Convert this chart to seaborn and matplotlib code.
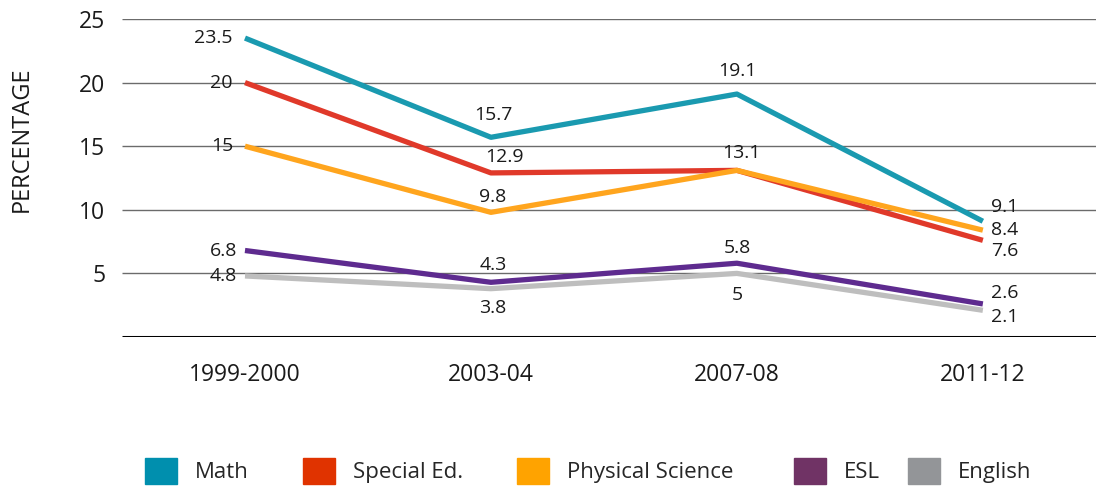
import matplotlib
matplotlib.use("Agg")
import matplotlib.pyplot as plt
import matplotlib.patches as mpatches
import seaborn as sns
import pandas as pd

years = ["1999-2000", "2003-04", "2007-08", "2011-12"]
subjects = ["Math", "Special Ed.", "Physical Science", "ESL", "English"]
math = [23.5, 15.7, 19.1, 9.1]
special_ed = [20, 12.9, 13.1, 7.6]
physical_science = [15, 9.8, 13.1, 8.4]
esl = [6.8, 4.3, 5.8, 2.6]
english = [4.8, 3.8, 5, 2.1]
y_ticks = [5, 10, 15, 20, 25]

series = [math, special_ed, physical_science, esl, english]
line_colors = ["#1a9ab0", "#e0392a", "#ffa51e", "#5e2b8f", "#bebebe"]
legend_colors = ["#008fae", "#e03300", "#ffa300", "#703365", "#939598"]

rows = []
for subj, vals in zip(subjects, series):
    for i, (yr, v) in enumerate(zip(years, vals)):
        rows.append({"year": yr, "pos": i, "subject": subj, "value": v})
df = pd.DataFrame(rows)

sns.set_theme(style="white")
plt.rcParams["font.family"] = ["Open Sans", "DejaVu Sans"]

fig = plt.figure(figsize=(10.96, 4.9), dpi=100)
ax = fig.add_axes([122 / 1096, 1 - 337 / 490, 1 - 122 / 1096, (337 - 19) / 490])

for y in y_ticks:
    ax.axhline(y, color="#6b6b6b", lw=1.0, zorder=0)
ax.axhline(0, color="black", lw=2.2, zorder=0.5)

sns.lineplot(data=df, x="pos", y="value", hue="subject", hue_order=subjects,
             palette=dict(zip(subjects, line_colors)), lw=3.8, ax=ax,
             legend=False, sort=False)
for l in ax.lines:
    l.set_solid_capstyle("butt")

ax.set_xlim(-0.5, 3.46)
ax.set_ylim(0, 25)
ax.set_xticks(range(len(years)))
ax.set_xticklabels(years)
ax.set_yticks(y_ticks)
ax.set_yticklabels([str(t) for t in y_ticks])
ax.tick_params(axis="x", length=0, pad=19, labelsize=16.5, labelcolor="#1a1a1a")
ax.tick_params(axis="y", length=0, pad=12, labelsize=16.5, labelcolor="#1a1a1a")
ax.set_xlabel("")
ax.set_ylabel("")
for s in ax.spines.values():
    s.set_visible(False)

fig.text(22 / 1096, 1 - 139 / 490, "PERCENTAGE", rotation=90, ha="center",
         va="center", fontsize=17, color="#1a1a1a")

# label offsets in pixels (dx, dy, ha) per series per point
px = 0.72
offsets = [
    [(-12, 0, "right"), (2, 22, "center"), (0, 23, "center"), (8, 14, "left")],
    [(-12, 0, "right"), (13, 16, "center"), (4, 17, "center"), (8, -11, "left")],
    [(-12, 0, "right"), (2, 15, "center"), None, (8, 0, "left")],
    [(-8, 0, "right"), (2, 17, "center"), (0, 15, "center"), (8, 11, "left")],
    [(-8, 0, "right"), (2, -19, "center"), (0, -22, "center"), (8, -7, "left")],
]
for vals, offs in zip(series, offsets):
    for i, (v, o) in enumerate(zip(vals, offs)):
        if o is None:
            continue
        dx, dy, ha = o
        ax.annotate(f"{v:g}", xy=(i, v), xytext=(dx * px, dy * px),
                    textcoords="offset points", ha=ha, va="center",
                    fontsize=14, color="#1a1a1a", zorder=5)

# legend entries placed individually
legend_x = [145, 303, 517, 794, 908]
for c, s, lx in zip(legend_colors, subjects, legend_x):
    h = mpatches.Patch(color=c, label=s)
    fig.legend(handles=[h], loc="center left", bbox_to_anchor=(lx / 1096, 1 - 471 / 490),
               frameon=False, fontsize=16, handlelength=1.45, handleheight=1.45,
               handletextpad=0.8, borderaxespad=0, borderpad=0)

fig.savefig("out.png", dpi=100)
